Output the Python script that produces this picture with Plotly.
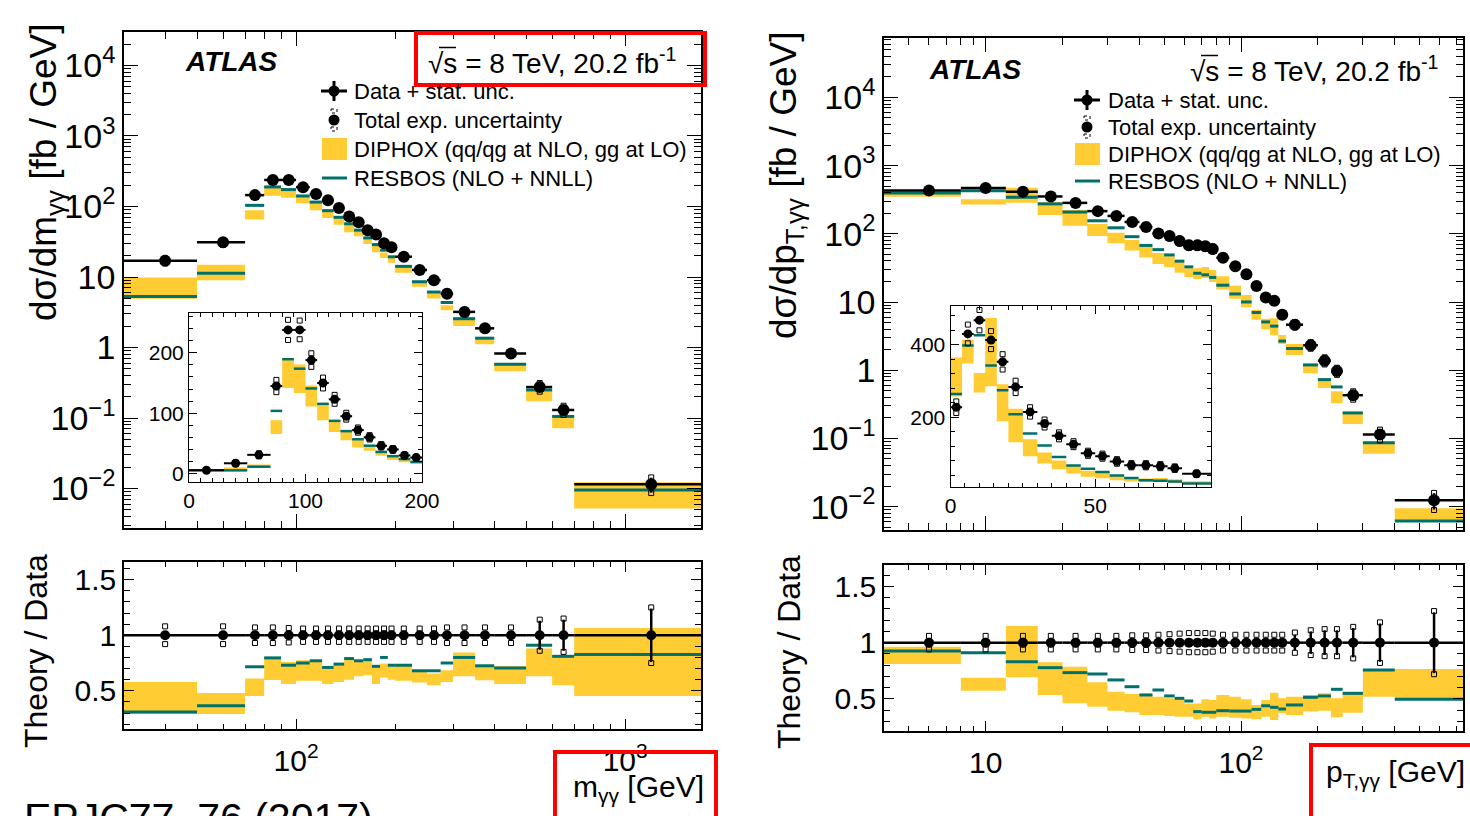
import math
import plotly.graph_objects as go

W, H = 1470, 816

# ---------------- m_gg distribution ----------------
m_edges = [0, 30, 50, 70, 80, 90, 100, 110, 120, 130, 140, 150, 160, 170, 180, 190, 200,
           225, 250, 275, 300, 350, 400, 500, 600, 700, 1700]
m_data = [5.5, 17, 31, 145, 238, 238, 188, 150, 123, 95, 72, 60, 46, 40, 30, 26.5,
          19.4, 12.6, 9.0, 5.8, 3.2, 1.87, 0.82, 0.275, 0.13, 0.0115]
m_stat = [0.02, 0.02, 0.02, 0.015, 0.015, 0.015, 0.015, 0.015, 0.015, 0.015, 0.015, 0.015, 0.015,
          0.015, 0.015, 0.02, 0.02, 0.02, 0.02, 0.025, 0.025, 0.03, 0.035, 0.13, 0.14, 0.24]
m_tot = [0.08, 0.08, 0.08, 0.07, 0.07, 0.065, 0.06, 0.06, 0.06, 0.06, 0.06, 0.06, 0.06,
         0.06, 0.06, 0.06, 0.06, 0.06, 0.06, 0.07, 0.07, 0.07, 0.07, 0.14, 0.15, 0.25]
m_diphox_hi = [1.10, 0.58, 0.48, 0.61, 0.805, 0.76, 0.775, 0.77, 0.72, 0.74, 0.79, 0.76, 0.775,
               0.73, 0.745, 0.72, 0.74, 0.68, 0.655, 0.685, 0.845, 0.73, 0.72, 0.88, 0.82, 1.066]
m_diphox_lo = [0.85, 0.29, 0.29, 0.452, 0.596, 0.56, 0.59, 0.59, 0.56, 0.58, 0.60, 0.63, 0.64,
               0.56, 0.62, 0.60, 0.59, 0.575, 0.55, 0.58, 0.63, 0.595, 0.56, 0.63, 0.55, 0.452]
m_resbos = [1.0, 0.31, 0.365, 0.716, 0.796, 0.73, 0.75, 0.77, 0.71, 0.74, 0.79, 0.77, 0.78,
            0.72, 0.80, 0.73, 0.73, 0.68, 0.68, 0.75, 0.80, 0.725, 0.705, 0.91, 0.81, 0.826]

# ---------------- pT,gg distribution ----------------
pt_edges = [0, 4, 8, 12, 16, 20, 25, 30, 35, 40, 45, 50, 55, 60, 65, 70, 75, 80, 90, 100,
            110, 120, 130, 140, 150, 175, 200, 225, 250, 300, 400, 740]
pt_data = [228, 430, 468, 413, 353, 284, 215, 183, 149, 126, 101, 93, 78.5, 68, 68, 65.5, 60,
           44.5, 33.4, 25.5, 17.2, 11.6, 10.4, 6.5, 4.65, 2.32, 1.38, 0.97, 0.43, 0.114, 0.0124]
pt_stat = [0.02, 0.015, 0.015, 0.015, 0.015, 0.015, 0.015, 0.015, 0.015, 0.015, 0.015, 0.015,
           0.015, 0.015, 0.015, 0.015, 0.015, 0.02, 0.02, 0.02, 0.025, 0.03, 0.03, 0.035, 0.07,
           0.10, 0.11, 0.11, 0.13, 0.17, 0.27]
pt_tot = [0.07, 0.06, 0.06, 0.06, 0.06, 0.06, 0.06, 0.06, 0.065, 0.065, 0.07, 0.075, 0.08,
          0.085, 0.085, 0.085, 0.08, 0.07, 0.07, 0.07, 0.07, 0.07, 0.07, 0.07, 0.09,
          0.11, 0.12, 0.12, 0.14, 0.18, 0.28]
pt_diphox_hi = [1.60, 0.964, 0.689, 1.148, 0.825, 0.787, 0.648, 0.565, 0.544, 0.544, 0.52, 0.506,
                0.497, 0.46, 0.46, 0.497, 0.49, 0.536, 0.52, 0.497, 0.447, 0.49, 0.556, 0.506,
                0.52, 0.536, 0.55, 0.506, 0.565, 0.766, 0.766]
pt_diphox_lo = [1.13, 0.811, 0.574, 0.692, 0.536, 0.462, 0.432, 0.396, 0.382, 0.358, 0.358, 0.349,
                0.343, 0.343, 0.32, 0.343, 0.328, 0.343, 0.334, 0.328, 0.320, 0.343, 0.314, 0.373,
                0.358, 0.388, 0.396, 0.337, 0.379, 0.521, 0.506]
pt_resbos = [1.16, 0.926, 0.911, 0.831, 0.778, 0.734, 0.722, 0.669, 0.609, 0.536, 0.58, 0.527,
             0.506, 0.482, 0.388, 0.382, 0.382, 0.396, 0.393, 0.393, 0.408, 0.44, 0.426, 0.411,
             0.447, 0.515, 0.527, 0.586, 0.55, 0.757, 0.497]

# tick labels
log_tickvals = [1e-2, 1e-1, 1, 10, 1e2, 1e3, 1e4]
log_ticktext = ['10<sup>\u22122</sup>', '10<sup>\u22121</sup>', '1', '10',
                '10<sup>2</sup>', '10<sup>3</sup>', '10<sup>4</sup>']
ratio_tickvals = [0.5, 1, 1.5]
ratio_ticktext = ['0.5', '1', '1.5']

YELLOW = '#FFCC33'
TEAL = '#00706B'
FONT = 'Liberation Sans, Arial, sans-serif'


def X(px):
    return px / W


def Y(py):
    return 1 - py / H


def log_minor(d0, d1):
    return [k * 10 ** d for d in range(d0, d1) for k in range(2, 10)]


fig = go.Figure()


def add_hist(edges, data, stat, tot, dlo, dhi, res, idx, xa, ya, ratio, msize, lw, bw):
    xs_b, ys_b, xs_r, ys_r, xs_d, ys_d = [], [], [], [], [], []
    cx, cy, eplus, tp, tm = [], [], [], [], []
    for i in idx:
        e0, e1 = edges[i], edges[i + 1]
        scale = 1.0 if ratio else data[i]
        lo, hi, r = dlo[i] * scale, dhi[i] * scale, res[i] * scale
        dv = 1.0 if ratio else data[i]
        xs_b += [e0, e1, e1, e0, e0, None]
        ys_b += [lo, lo, hi, hi, lo, None]
        xs_r += [e0, e1, None]
        ys_r += [r, r, None]
        xs_d += [e0, e1, None]
        ys_d += [dv, dv, None]
        cx.append((e0 + e1) / 2)
        cy.append(dv)
        eplus.append(dv * stat[i])
        tp.append(dv * (1 + tot[i]))
        tm.append(dv * (1 - tot[i]))
    fig.add_trace(go.Scatter(x=xs_b, y=ys_b, fill='toself', fillcolor=YELLOW, mode='lines',
                             line=dict(width=0, color=YELLOW), xaxis=xa, yaxis=ya,
                             showlegend=False, hoverinfo='skip'))
    fig.add_trace(go.Scatter(x=xs_r, y=ys_r, mode='lines', line=dict(width=lw, color=TEAL),
                             xaxis=xa, yaxis=ya, showlegend=False, hoverinfo='skip'))
    fig.add_trace(go.Scatter(x=xs_d, y=ys_d, mode='lines', line=dict(width=bw, color='black'),
                             xaxis=xa, yaxis=ya, showlegend=False, hoverinfo='skip'))
    fig.add_trace(go.Scatter(x=cx + cx, y=tp + tm, mode='markers',
                             marker=dict(symbol='square-open', size=5, color='black',
                                         line=dict(width=1, color='black')),
                             xaxis=xa, yaxis=ya, showlegend=False, hoverinfo='skip'))
    fig.add_trace(go.Scatter(x=cx, y=cy, mode='markers',
                             marker=dict(symbol='circle', size=msize, color='black'),
                             error_y=dict(type='data', array=eplus, arrayminus=eplus,
                                          width=0, thickness=bw, color='black'),
                             xaxis=xa, yaxis=ya, showlegend=False, hoverinfo='skip'))


n_m = len(m_data)
n_pt = len(pt_data)
m_main = [i for i in range(n_m) if m_edges[i] >= 30]
m_inset = [i for i in range(n_m) if m_edges[i + 1] <= 200]
pt_main = [i for i in range(n_pt) if pt_edges[i] >= 4]
pt_inset = [i for i in range(n_pt) if pt_edges[i + 1] <= 90]

add_hist(m_edges, m_data, m_stat, m_tot, m_diphox_lo, m_diphox_hi, m_resbos, m_main, 'x', 'y', False, 12, 3, 2.5)
add_hist(m_edges, m_data, m_stat, m_tot, m_diphox_lo, m_diphox_hi, m_resbos, m_main, 'x2', 'y2', True, 10, 3, 2.5)
add_hist(pt_edges, pt_data, pt_stat, pt_tot, pt_diphox_lo, pt_diphox_hi, pt_resbos, pt_main, 'x3', 'y3', False, 12, 3, 2.5)
add_hist(pt_edges, pt_data, pt_stat, pt_tot, pt_diphox_lo, pt_diphox_hi, pt_resbos, pt_main, 'x4', 'y4', True, 10, 3, 2.5)
add_hist(m_edges, m_data, m_stat, m_tot, m_diphox_lo, m_diphox_hi, m_resbos, m_inset, 'x5', 'y5', False, 9, 2.5, 2)
add_hist(pt_edges, pt_data, pt_stat, pt_tot, pt_diphox_lo, pt_diphox_hi, pt_resbos, pt_inset, 'x6', 'y6', False, 9, 2.5, 2)


def axis(**kw):
    base = dict(showline=True, linecolor='black', linewidth=1.5, mirror='ticks', ticks='inside',
                tickcolor='black', tickwidth=1, showgrid=False, zeroline=False, fixedrange=True,
                automargin=False, tickfont=dict(size=34, color='black', family=FONT))
    base.update(kw)
    return base


lay = dict(
    width=W, height=H, margin=dict(l=0, r=0, t=0, b=0, pad=0), autosize=False,
    paper_bgcolor='white', plot_bgcolor='white', showlegend=False,
    font=dict(family=FONT, color='black'),
    xaxis=axis(type='log', range=[math.log10(30), math.log10(1700)], domain=[X(124), X(701)],
               anchor='y', showticklabels=False, tickvals=[100, 1000], ticklen=14,
               minor=dict(ticks='inside', ticklen=7, tickcolor='black', tickmode='array',
                          tickvals=log_minor(1, 4))),
    yaxis=axis(type='log', range=[-2.56, 4.475], domain=[Y(528), Y(32)], anchor='x',
               tickvals=log_tickvals, ticktext=log_ticktext, ticklen=14,
               minor=dict(ticks='inside', ticklen=7, tickcolor='black', tickmode='array',
                          tickvals=log_minor(-3, 5))),
    xaxis2=axis(type='log', range=[math.log10(30), math.log10(1700)], domain=[X(124), X(701)],
                anchor='y2', tickvals=[100, 1000], ticktext=['10<sup>2</sup>', '10<sup>3</sup>'],
                ticklen=10, tickfont=dict(size=30, color='black', family=FONT), ticklabelstandoff=4,
                minor=dict(ticks='inside', ticklen=5, tickcolor='black', tickmode='array',
                           tickvals=log_minor(1, 4))),
    yaxis2=axis(range=[0.156, 1.659], domain=[Y(729), Y(562)], anchor='x2',
                tickvals=ratio_tickvals, ticktext=ratio_ticktext, ticklen=10,
                tickfont=dict(size=30, color='black', family=FONT),
                minor=dict(ticks='inside', ticklen=6, tickcolor='black', dtick=0.1, tick0=0)),
    xaxis3=axis(type='log', range=[math.log10(4), math.log10(740)], domain=[X(884), X(1463)],
                anchor='y3', showticklabels=False, tickvals=[10, 100], ticklen=14,
                minor=dict(ticks='inside', ticklen=7, tickcolor='black', tickmode='array',
                           tickvals=log_minor(0, 3))),
    yaxis3=axis(type='log', range=[-2.343, 4.871], domain=[Y(530), Y(38)], anchor='x3',
                tickvals=log_tickvals, ticktext=log_ticktext, ticklen=14,
                minor=dict(ticks='inside', ticklen=7, tickcolor='black', tickmode='array',
                           tickvals=log_minor(-3, 5))),
    xaxis4=axis(type='log', range=[math.log10(4), math.log10(740)], domain=[X(884), X(1463)],
                anchor='y4', tickvals=[10, 100], ticktext=['10', '10<sup>2</sup>'], ticklen=10,
                tickfont=dict(size=30, color='black', family=FONT), ticklabelstandoff=4,
                minor=dict(ticks='inside', ticklen=5, tickcolor='black', tickmode='array',
                           tickvals=log_minor(0, 3))),
    yaxis4=axis(range=[0.216, 1.689], domain=[Y(731), Y(565)], anchor='x4',
                tickvals=ratio_tickvals, ticktext=ratio_ticktext, ticklen=10,
                tickfont=dict(size=30, color='black', family=FONT),
                minor=dict(ticks='inside', ticklen=6, tickcolor='black', dtick=0.1, tick0=0)),
    xaxis5=axis(range=[0, 200], domain=[X(189), X(422)], anchor='y5', tickvals=[0, 100, 200],
                ticklen=8, linewidth=1, tickfont=dict(size=21, color='black', family=FONT),
                minor=dict(ticks='inside', ticklen=4, tickcolor='black', dtick=10, tick0=0)),
    yaxis5=axis(range=[-14, 266], domain=[Y(482), Y(313)], anchor='x5', tickvals=[0, 100, 200],
                ticklen=8, linewidth=1, tickfont=dict(size=21, color='black', family=FONT),
                minor=dict(ticks='inside', ticklen=4, tickcolor='black', dtick=20, tick0=0)),
    xaxis6=axis(range=[0, 90], domain=[X(950.5), X(1211)], anchor='y6', tickvals=[0, 50],
                ticklen=8, linewidth=1, tickfont=dict(size=21, color='black', family=FONT),
                minor=dict(ticks='inside', ticklen=4, tickcolor='black', dtick=5, tick0=0)),
    yaxis6=axis(range=[8, 507], domain=[Y(487), Y(306)], anchor='x6', tickvals=[200, 400],
                ticklen=8, linewidth=1, tickfont=dict(size=21, color='black', family=FONT),
                minor=dict(ticks='inside', ticklen=4, tickcolor='black', dtick=40, tick0=0)),
)
fig.update_layout(**lay)

ann = []
shapes = []


def txt(x, y, t, size, xanchor='left', yanchor='middle', angle=0):
    ann.append(dict(x=X(x), y=Y(y), xref='paper', yref='paper', text=t, showarrow=False,
                    xanchor=xanchor, yanchor=yanchor, textangle=angle,
                    font=dict(size=size, color='black', family=FONT)))


def pline(x0, y0, x1, y1, color='black', width=1.5, dash=None):
    ln = dict(color=color, width=width)
    if dash:
        ln['dash'] = dash
    shapes.append(dict(type='line', xref='paper', yref='paper', x0=X(x0), x1=X(x1),
                       y0=Y(y0), y1=Y(y1), line=ln))


# panel labels
txt(183, 62, '<b><i>ATLAS</i></b>', 28)
txt(426, 61, '\u221as = 8 TeV, 20.2 fb<sup>-1</sup>', 28)
txt(927, 69, '<b><i>ATLAS</i></b>', 28)
txt(1188, 69, '\u221as = 8 TeV, 20.2 fb<sup>-1</sup>', 28)

# axis titles
txt(46, 172, 'd\u03c3/dm<sub>\u03b3\u03b3</sub> [fb / GeV]', 37, 'center', 'middle', -90)
txt(786, 186, 'd\u03c3/dp<sub>T,\u03b3\u03b3</sub> [fb / GeV]', 37, 'center', 'middle', -90)
txt(36, 651, 'Theory / Data', 32, 'center', 'middle', -90)
txt(789, 652, 'Theory / Data', 32, 'center', 'middle', -90)
txt(706, 788, 'm<sub>\u03b3\u03b3</sub> [GeV]', 30, 'right', 'middle')
txt(1467, 773, 'p<sub>T,\u03b3\u03b3</sub> [GeV]', 30, 'right', 'middle')
txt(22, 793, 'EPJC77, 76 (2017)', 41, 'left', 'top')

# legends
legend_labels = ['Data + stat. unc.', 'Total exp. uncertainty',
                 'DIPHOX (qq/qg at NLO, gg at LO)', 'RESBOS (NLO + NNLL)']


def legend(mx, tx, ys, size):
    for t, y in zip(legend_labels, ys):
        txt(tx, y, t, size)

    def P(x, y):
        return dict(x0=X(x[0]), x1=X(x[1]), y0=Y(y[0]), y1=Y(y[1]), xref='paper', yref='paper')
    y0, y1, y2, y3 = ys
    shapes.append(dict(type='line', line=dict(color='black', width=3), **P((mx - 13, mx + 13), (y0, y0))))
    shapes.append(dict(type='line', line=dict(color='black', width=3), **P((mx, mx), (y0 - 10, y0 + 10))))
    shapes.append(dict(type='circle', fillcolor='black', line=dict(color='black', width=0),
                       **P((mx - 5.5, mx + 5.5), (y0 - 5.5, y0 + 5.5))))
    shapes.append(dict(type='circle', fillcolor='black', line=dict(color='black', width=0),
                       **P((mx - 5.5, mx + 5.5), (y1 - 5.5, y1 + 5.5))))
    shapes.append(dict(type='rect', line=dict(color='black', width=1, dash='dot'),
                       **P((mx - 3, mx + 3), (y1 - 11, y1 - 7))))
    shapes.append(dict(type='rect', line=dict(color='black', width=1, dash='dot'),
                       **P((mx - 3, mx + 3), (y1 + 7, y1 + 11))))
    shapes.append(dict(type='rect', fillcolor=YELLOW, line=dict(width=0),
                       **P((mx - 12, mx + 13), (y2 - 11, y2 + 11))))
    shapes.append(dict(type='line', line=dict(color=TEAL, width=3), **P((mx - 12, mx + 13), (y3, y3))))


legend(334, 352, [91, 120, 149, 178], 22)
legend(1087, 1106, [100, 127, 154, 181], 22)

# overline of the square-root sign over "s"
pline(439, 47.5, 456, 47.5, width=1.5)
pline(1201, 55.5, 1218, 55.5, width=1.5)

# red highlight boxes
for x0, y0, x1, y1 in [(416, 33, 705, 85), (555, 752, 716, 822), (1311, 745, 1472, 822)]:
    shapes.append(dict(type='rect', xref='paper', yref='paper', x0=X(x0), x1=X(x1), y0=Y(y0), y1=Y(y1),
                       line=dict(color='#FF0000', width=4), fillcolor='rgba(0,0,0,0)'))

fig.update_layout(annotations=ann, shapes=shapes)
fig.write_html('out.html', config={'displayModeBar': False},
               post_script="document.body.style.margin='0px';document.body.style.overflow='hidden';")
